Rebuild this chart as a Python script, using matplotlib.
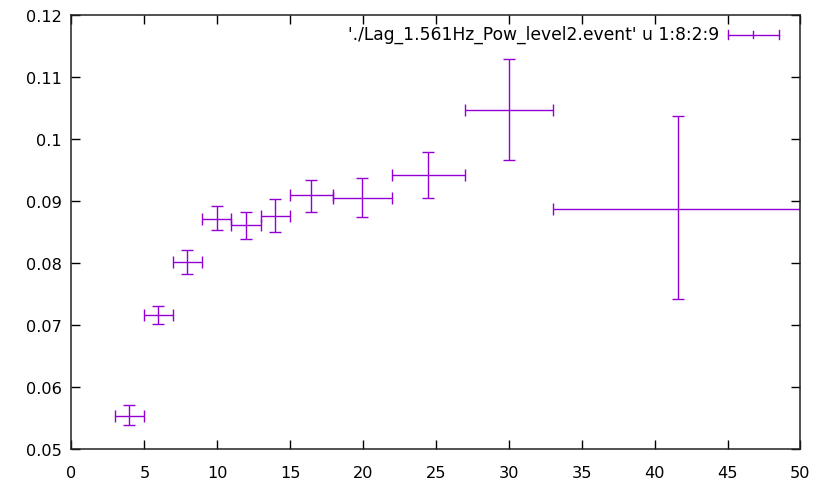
import matplotlib
matplotlib.use("Agg")
import matplotlib.pyplot as plt
from matplotlib.lines import Line2D

# data
x = [3.95, 5.95, 7.95, 9.95, 11.95, 13.95, 16.45, 19.95, 24.45, 30.0, 41.6]
xlow = [2.95, 4.98, 6.97, 8.95, 10.92, 12.97, 14.96, 17.95, 21.95, 26.97, 33.0]
xhigh = [4.98, 6.97, 8.95, 10.92, 12.97, 14.96, 17.95, 21.95, 26.97, 33.03, 52.0]
y = [0.0553, 0.0715, 0.0801, 0.0871, 0.0861, 0.0876, 0.0909, 0.0905, 0.0942, 0.1046, 0.0886]
ylow = [0.0538, 0.0701, 0.0782, 0.0852, 0.0838, 0.0850, 0.0882, 0.0873, 0.0905, 0.0965, 0.0742]
yhigh = [0.0570, 0.0730, 0.0821, 0.0892, 0.0882, 0.0903, 0.0934, 0.0937, 0.0979, 0.1129, 0.1037]
label = "'./Lag_1.561Hz_Pow_level2.event' u 1:8:2:9"
xticks = [0, 5, 10, 15, 20, 25, 30, 35, 40, 45, 50]
yticks = [0.05, 0.06, 0.07, 0.08, 0.09, 0.1, 0.11, 0.12]
ytick_labels = ["0.05", "0.06", "0.07", "0.08", "0.09", "0.1", "0.11", "0.12"]

color = "#9400d3"
W, H = 829, 481
fig = plt.figure(figsize=(W / 100, H / 100), dpi=100)
L, R, T, B = 71.5, 800.5, 15.7, 449.7
ax = fig.add_axes([L / W, 1 - B / H, (R - L) / W, (B - T) / H])

xerr = [[xi - lo for xi, lo in zip(x, xlow)], [hi - xi for xi, hi in zip(x, xhigh)]]
yerr = [[yi - lo for yi, lo in zip(y, ylow)], [hi - yi for yi, hi in zip(y, yhigh)]]
ax.errorbar(x, y, xerr=xerr, yerr=yerr, fmt="none", ecolor=color, elinewidth=1.0,
            capsize=4, capthick=1.0, clip_on=True)

ax.set_xlim(0, 50)
ax.set_ylim(0.05, 0.12)
ax.set_xticks(xticks)
ax.set_yticks(yticks)
ax.set_yticklabels(ytick_labels)
ax.tick_params(direction="in", length=6.5, width=1, top=True, right=True,
               labelsize=11.6, colors="black")
ax.tick_params(axis="y", pad=7)
ax.tick_params(axis="x", pad=12)
for s in ax.spines.values():
    s.set_linewidth(1.1)
    s.set_color("#222222")

# key
ax.text(0.888, 0.955, label, transform=ax.transAxes, ha="right", va="center", fontsize=12.3)
kx0, kx1, ky = 0.9, 0.971, 0.954
ax.add_line(Line2D([kx0, kx1], [ky, ky], transform=ax.transAxes, color=color, lw=1.0))
for xx, h in [(kx0, 0.011), (kx1, 0.011), ((kx0 + kx1) / 2, 0.0075)]:
    ax.add_line(Line2D([xx, xx], [ky - h, ky + h], transform=ax.transAxes, color=color, lw=1.0))

fig.savefig("out.png", dpi=100)
